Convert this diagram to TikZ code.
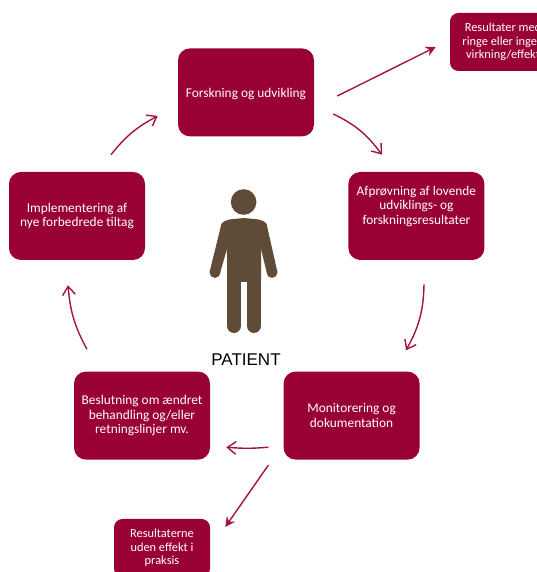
\documentclass[tikz,border=0pt]{standalone}
\usepackage{fontspec}
\setmainfont{Carlito}
\newfontfamily\patientfont{Liberation Sans}
\definecolor{boxred}{RGB}{153, 0, 51}
\definecolor{arrowred}{RGB}{160, 20, 65}
\definecolor{personbrown}{RGB}{96, 74, 56}
\usetikzlibrary{arrows.meta, bending, calc, positioning}

\tikzset{
  stepbox/.style={fill=boxred, rounded corners=8.5pt, text=white, align=center,
    minimum width=3.4cm, minimum height=2.2cm, inner sep=2pt,
    font=\fontsize{9.5}{10.3}\selectfont},
  sidebox/.style={stepbox, rounded corners=6pt, minimum height=1.45cm,
    font=\fontsize{8.8}{9.5}\selectfont},
  flow/.style={arrowred, line width=1pt, -{Straight Barb[length=6pt, width=9pt, bend]}},
  dropflow/.style={arrowred, line width=1pt, -{Stealth[length=7pt, width=7pt]}},
  limb/.style={personbrown, line cap=round},
}

\begin{document}
\begin{tikzpicture}
  \useasboundingbox (0, 0) rectangle (13.4, 14.3);

  % Cycle of steps
  \node[stepbox, text height=0.33cm] (forskning) at (6.15, 11.99) {Forskning og udvikling};
  \node[stepbox, text depth=0.55cm] (afproevning) at (10.41, 8.9) {Afprøvning af lovende\\udviklings- og\\forskningsresultater};
  \node[stepbox] (monitorering) at (8.79, 3.91) {Monitorering og\\dokumentation};
  \node[stepbox] (beslutning) at (3.55, 3.91) {Beslutning om ændret\\behandling og/eller\\retningslinjer mv.};
  \node[stepbox] (implementering) at (1.925, 8.9) {Implementering af\\nye forbedrede tiltag};

  % Side results
  \node[sidebox, minimum width=2.65cm] (resultater) at (12.575, 13.25) {Resultater med\\ringe eller ingen\\virkning/effekt};
  \node[sidebox, minimum width=2.4cm] (resultaterne) at (4.05, 0.6) {Resultaterne\\uden effekt i\\praksis};

  % Arrows round the cycle
  \draw[dropflow] ($(forskning.east)+(0.575,-0.09)$) -- ($(resultater.west)+(-0.35,-0.125)$);
  \draw[flow] ($(forskning.east)+(0.475,-0.54)$) to[bend left=14] ($(afproevning.north)+(-0.86,0.425)$);
  \draw[flow] ($(afproevning.south)+(0.19,-0.6)$) to[bend left=14] ($(monitorering.north)+(1.36,0.525)$);
  \draw[flow] ($(monitorering.west)+(-0.375,-0.79)$) to[bend left=5] ($(beslutning.east)+(0.4,-0.79)$);
  \draw[dropflow] ($(monitorering.west)+(-0.375,-1.24)$) -- ($(resultaterne.east)+(0.375,0.525)$);
  \draw[flow] ($(beslutning.north)+(-1.375,0.55)$) to[bend left=12] ($(implementering.south)+(-0.225,-0.625)$);
  \draw[flow] ($(implementering.north)+(0.85,0.425)$) to[bend left=12] ($(forskning.west)+(-0.5,-0.59)$);

  % Person in the middle
  \fill[personbrown] (6.09, 9.25) circle (0.32);
  \fill[personbrown, rounded corners=2pt] (5.525, 8.725) -- (5.7, 8.81) -- (6.1, 8.85) -- (6.5, 8.81)
    -- (6.675, 8.725) -- (6.525, 8.0) -- (6.525, 7.25) -- (5.675, 7.25) -- (5.675, 8.0) -- cycle;
  \fill[personbrown] (5.54, 8.72) -- (5.24, 7.5) -- (5.51, 7.5) -- (5.68, 8.1) -- cycle;
  \fill[personbrown] (6.66, 8.72) -- (6.935, 7.5) -- (6.665, 7.5) -- (6.52, 8.1) -- cycle;
  \fill[personbrown] (5.375, 7.49) circle (0.1375);
  \fill[personbrown] (6.8, 7.49) circle (0.1375);
  \draw[limb, line width=0.35cm] (5.85, 7.3) -- (5.85, 6.15);
  \draw[limb, line width=0.35cm] (6.35, 7.3) -- (6.35, 6.15);
  \node[font=\patientfont\fontsize{12.1}{12}\selectfont] (patient) at (6.15, 5.31) {PATIENT};
\end{tikzpicture}
\end{document}
